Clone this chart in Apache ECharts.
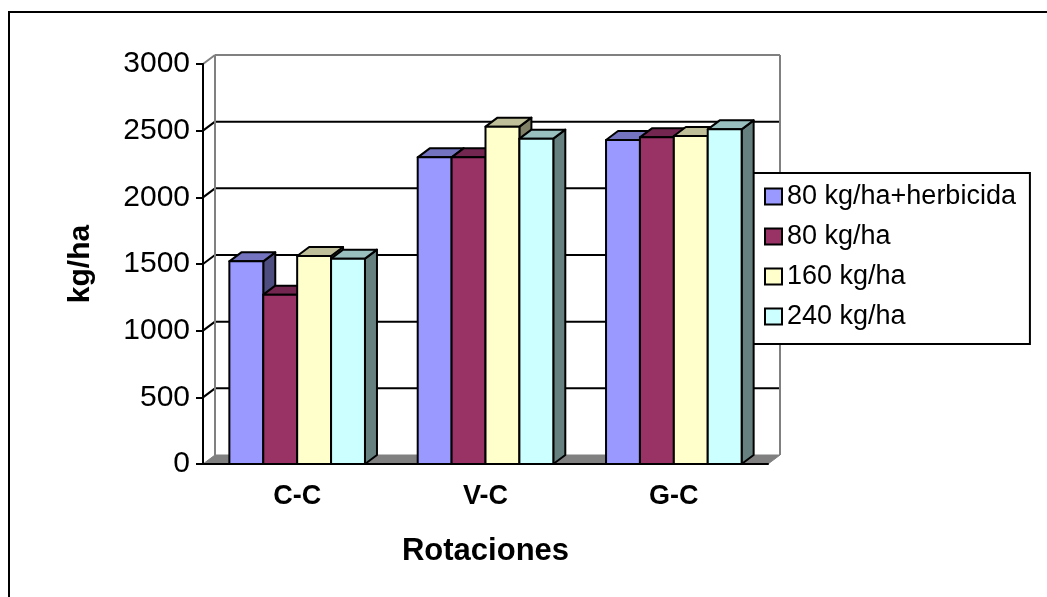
<!DOCTYPE html>
<html>
<head>
<meta charset="utf-8">
<script src="https://cdn.jsdelivr.net/npm/echarts@6/dist/echarts.min.js"></script>
<style>
  html, body { margin: 0; padding: 0; background: #fff; }
  #chart { width: 1047px; height: 597px; }
</style>
</head>
<body>
<div id="chart"></div>
<script>
// Rendimiento por rotación y dosis (kg/ha)
const categories = ['C-C', 'V-C', 'G-C'];
const seriesNames = ['80 kg/ha+herbicida', '80 kg/ha', '160 kg/ha', '240 kg/ha'];
const herbicida80 = [1520, 2300, 2430];
const dosis80 = [1270, 2300, 2450];
const dosis160 = [1560, 2530, 2460];
const dosis240 = [1540, 2440, 2510];
const yTicks = [0, 500, 1000, 1500, 2000, 2500, 3000];

const seriesValues = [herbicida80, dosis80, dosis160, dosis240];
const faceColors = ['#9999FF', '#993366', '#FFFFCC', '#CCFFFF'];
const topColors  = ['#7373BF', '#732650', '#BFBF99', '#99BFBF'];
const sideColors = ['#4D4D80', '#4D1A33', '#808066', '#668080'];

const FONT = "'Liberation Sans', Arial, sans-serif";
const DX = 12, DY = -9;          // depth offset of the pseudo-3D view
const BAR_FRACTION = 0.18;       // width of one bar as a share of a category band
const WALL_GRAY = '#808080';

// Back wall, side wall and floor, built from the value-axis ticks
function renderWalls(params, api) {
  const cs = params.coordSys;
  const left = cs.x, right = cs.x + cs.width;
  const v = api.value(1);
  const y = api.coord([0, v])[1];
  const yBase = api.coord([0, 0])[1];
  const isTop = v === yTicks[yTicks.length - 1];
  const children = [];
  if (v === 0) {
    children.push({
      type: 'polygon',
      shape: { points: [[left, y], [left + DX, y + DY], [right + DX, y + DY], [right, y]] },
      style: { fill: WALL_GRAY, stroke: WALL_GRAY, lineWidth: 1 }
    });
  } else {
    const c = isTop ? WALL_GRAY : '#000';
    children.push({
      type: 'line',
      shape: { x1: left + DX, y1: y + DY, x2: right + DX, y2: y + DY },
      style: { stroke: c, lineWidth: 2 }
    });
    children.push({
      type: 'line',
      shape: { x1: left, y1: y, x2: left + DX, y2: y + DY },
      style: { stroke: c, lineWidth: 2 }
    });
  }
  if (isTop) {
    children.push({
      type: 'line',
      shape: { x1: left + DX, y1: y + DY, x2: left + DX, y2: yBase + DY },
      style: { stroke: WALL_GRAY, lineWidth: 2 }
    });
    children.push({
      type: 'line',
      shape: { x1: right + DX, y1: y + DY, x2: right + DX, y2: yBase + DY },
      style: { stroke: WALL_GRAY, lineWidth: 2 }
    });
  }
  return { type: 'group', children };
}

// One prism column: front face, top face and right side
function barRenderer(si) {
  return function (params, api) {
    const cat = api.value(0), v = api.value(1);
    const top = api.coord([cat, v]);
    const base = api.coord([cat, 0]);
    const band = api.size([1, 0])[0];
    const w = band * BAR_FRACTION;
    const x0 = top[0] + (si - 2) * w;
    const x1 = x0 + w;
    const yT = top[1], yB = base[1];
    const edge = { stroke: '#000', lineWidth: 2, lineJoin: 'round' };
    return {
      type: 'group',
      children: [
        { type: 'polygon',
          shape: { points: [[x1, yT], [x1 + DX, yT + DY], [x1 + DX, yB + DY], [x1, yB]] },
          style: Object.assign({ fill: sideColors[si] }, edge) },
        { type: 'polygon',
          shape: { points: [[x0, yT], [x0 + DX, yT + DY], [x1 + DX, yT + DY], [x1, yT]] },
          style: Object.assign({ fill: topColors[si] }, edge) },
        { type: 'rect',
          shape: { x: x0, y: yT, width: w, height: yB - yT },
          style: Object.assign({ fill: faceColors[si] }, edge) }
      ]
    };
  };
}

const series = [{
  type: 'custom',
  name: 'walls',
  z: 1,
  silent: true,
  renderItem: renderWalls,
  data: yTicks.map(v => [0, v])
}];
seriesNames.forEach((name, si) => {
  series.push({
    type: 'custom',
    name,
    z: 2 + si,
    itemStyle: { color: faceColors[si] },
    renderItem: barRenderer(si),
    data: seriesValues[si].map((v, ci) => [ci, v])
  });
});

const chart = echarts.init(document.getElementById('chart'), null, { renderer: 'canvas' });
chart.setOption({
  backgroundColor: '#fff',
  animation: false,
  textStyle: { fontFamily: FONT, color: '#000' },
  grid: { left: 203, top: 64, width: 565, height: 400, containLabel: false },
  xAxis: {
    type: 'category',
    data: categories,
    z: 10,
    axisLine: { lineStyle: { color: '#000', width: 2 } },
    axisTick: { length: 9, lineStyle: { color: '#000', width: 2 } },
    axisLabel: { fontFamily: FONT, fontSize: 27, fontWeight: 'bold', color: '#000', margin: 19 },
    splitLine: { show: false },
    name: 'Rotaciones',
    nameLocation: 'middle',
    nameGap: 72,
    nameTextStyle: { fontFamily: FONT, fontSize: 31, fontWeight: 'bold', color: '#000' }
  },
  yAxis: {
    type: 'value',
    min: 0,
    max: 3000,
    interval: 500,
    z: 10,
    axisLine: { show: true, lineStyle: { color: '#000', width: 2 } },
    axisTick: { show: true, length: 7, lineStyle: { color: '#000', width: 2 } },
    axisLabel: {
      fontFamily: FONT, fontSize: 30, color: '#000', margin: 13,
      formatter: v => String(v)
    },
    splitLine: { show: false },
    name: 'kg/ha',
    nameLocation: 'middle',
    nameGap: 107,
    nameTextStyle: { fontFamily: FONT, fontSize: 30, fontWeight: 'bold', color: '#000' }
  },
  legend: {
    orient: 'vertical',
    left: 746,
    top: 173,
    padding: [10, 14, 14, 18],
    itemWidth: 17,
    itemHeight: 16,
    itemGap: 13,
    icon: 'rect',
    backgroundColor: '#fff',
    borderColor: '#000',
    borderWidth: 2,
    itemStyle: { borderColor: '#000', borderWidth: 2 },
    textStyle: { fontFamily: FONT, fontSize: 27, color: '#000' },
    data: seriesNames
  },
  graphic: [{
    type: 'rect',
    silent: true,
    z: 100,
    shape: { x: 9, y: 12, width: 1200, height: 800 },
    style: { fill: 'none', stroke: '#000', lineWidth: 2 }
  }],
  series
});
</script>
</body>
</html>
